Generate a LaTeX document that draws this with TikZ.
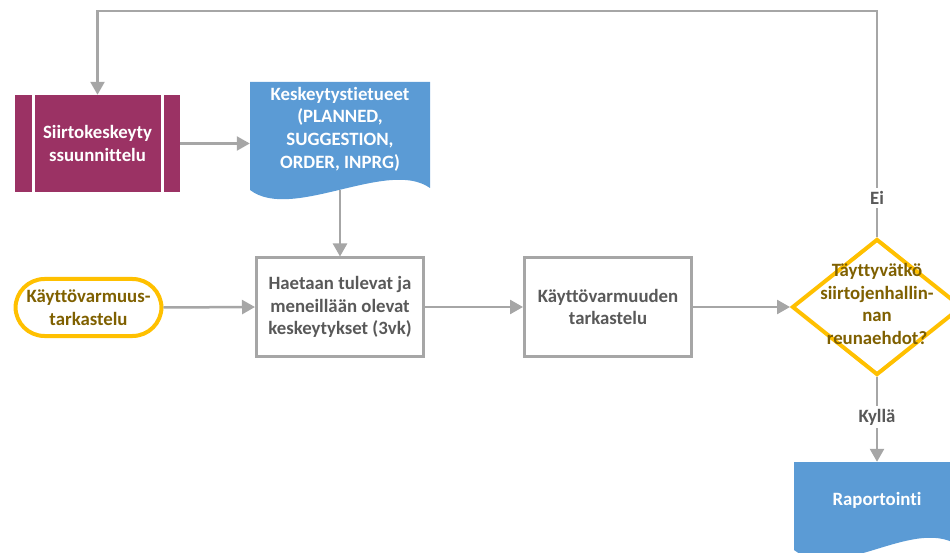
\documentclass[tikz,border=0pt]{standalone}
\usepackage{fontspec}
\setmainfont{Carlito}[Ligatures=NoCommon]
\usetikzlibrary{shapes.geometric,arrows.meta}
\definecolor{plum}{HTML}{9B3264}
\definecolor{docblue}{HTML}{5B9BD5}
\definecolor{amber}{HTML}{FFC000}
\definecolor{olive}{HTML}{7F6000}
\definecolor{linegray}{HTML}{A6A6A6}
\definecolor{textgray}{HTML}{595959}
\tikzset{
  x=1pt, y=-1pt,
  every node/.style={font=\bfseries\fontsize{18.8}{22.7}\selectfont, align=center, inner sep=0pt},
  arr/.style={draw=linegray, line width=2.5pt, -{Triangle[length=13pt,width=14pt]}},
  procbox/.style={draw=linegray, line width=3pt, fill=white, minimum width=167pt, minimum height=98pt, text=textgray},
  predef/.style={fill=plum, minimum width=165pt, minimum height=97pt, text=white},
  terminal/.style={draw=amber, line width=4pt, rounded corners=29pt, minimum width=146pt, minimum height=57pt, text=olive},
  decision/.style={diamond, draw=amber, line width=4pt, fill=white, minimum width=170pt, minimum height=136pt},
  docarea/.style={minimum width=180pt},
  edgelabel/.style={fill=white, text=textgray, inner sep=3pt},
}
\begin{document}
\begin{tikzpicture}
\useasboundingbox (0,0) rectangle (950,553);
\clip (0,0) rectangle (950,553);

% process with side bars
\node[predef] (plan) at (97.5,143.5) {Siirtokeskeyty\\ssuunnittelu};
\draw[white, line width=3pt] (33,95) -- (33,192) (162,95) -- (162,192);

% document: interruption records
\fill[docblue] (250,82) -- (430,82) -- (430,188)
  .. controls (388,158) and (292,222) .. (250,190) -- cycle;
\node[docarea, minimum height=108pt] (tiet) at (340,136) {};
\node[text=white] (tietT) at (340,129) {Keskeytystietueet\\(PLANNED,\\SUGGESTION,\\ORDER, INPRG)};

% start terminal
\node[terminal] (alku) at (88.5,307.5) {Käyttövarmuus-\\tarkastelu};

% process steps
\node[procbox] (haku) at (340,307) {Haetaan tulevat ja\\meneillään olevat\\keskeytykset (3vk)};
\node[procbox] (tark) at (608,307) {Käyttövarmuuden\\tarkastelu};

% decision
\node[decision] (ehto) at (877,307) {};
\node[text=olive] (ehtoT) at (877,304) {Täyttyvätkö\\siirtojenhallin-\\nan\\reunaehdot?};

% document: reporting
\fill[docblue] (794,462) -- (962,462) -- (962,548)
  .. controls (917,512) and (839,585) .. (794,550) -- cycle;
\node[minimum width=168pt, minimum height=10pt] (rap) at (877,467) {};
\node[text=white] (rapT) at (877,500) {Raportointi};

% connectors
\draw[arr] (plan.east) -- (plan.east -| tiet.west);
\draw[arr] (tiet.south) -- (haku.north);
\draw[arr] (alku.east) -- (haku.west);
\draw[arr] (haku.east) -- (tark.west);
\draw[arr] (tark.east) -- (ehto.west);
\draw[arr] (ehto.north) -- ++(0,-226) -| (plan.north);
\draw[arr] (ehto.south) -- (rap.north);

% branch labels
\node[edgelabel] (ei) at (877,198) {Ei};
\node[edgelabel] (kylla) at (877,417) {Kyllä};
\end{tikzpicture}
\end{document}
